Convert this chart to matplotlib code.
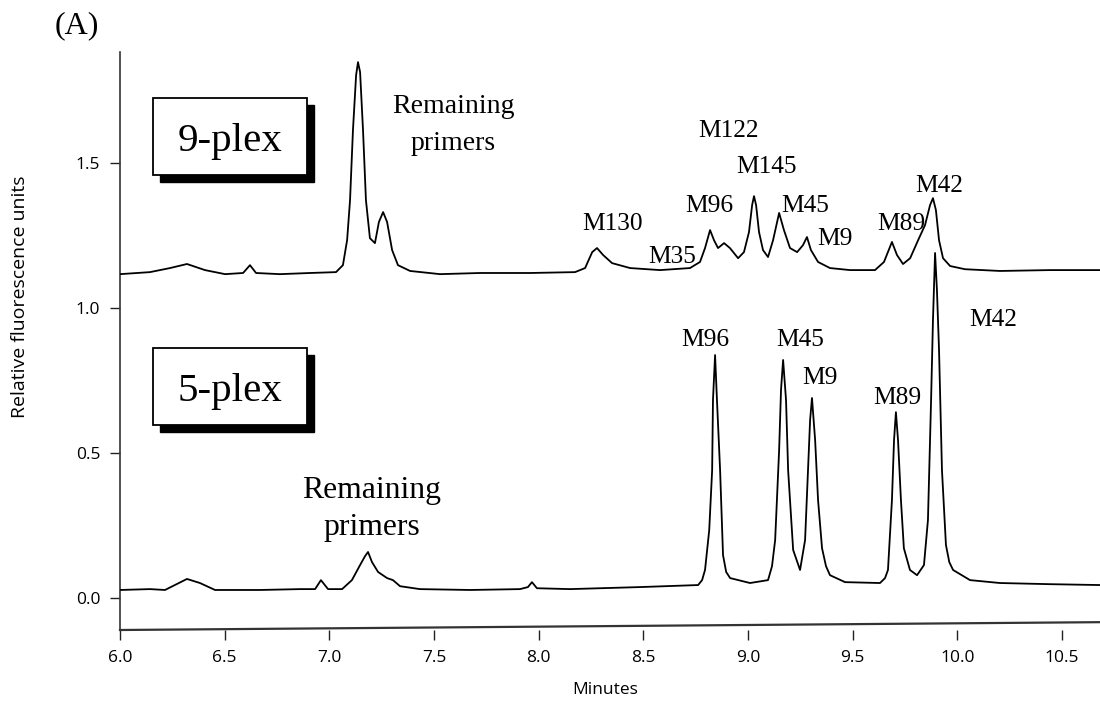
import matplotlib
matplotlib.use('Agg')
import matplotlib.pyplot as plt
from matplotlib.patches import Rectangle

# ── data (minutes, RFU) ──────────────────────────────────────────────────────
t9 = [6.000, 6.143, 6.239, 6.320, 6.406, 6.502, 6.588, 6.621, 6.650, 6.764,
      6.908, 7.032, 7.065, 7.085, 7.099, 7.113, 7.128, 7.137, 7.147, 7.161,
      7.175, 7.194, 7.218, 7.237, 7.257, 7.276, 7.300, 7.328, 7.386, 7.529,
      7.720, 7.959, 8.174, 8.222, 8.256, 8.279, 8.308, 8.351, 8.437, 8.580,
      8.723, 8.771, 8.795, 8.819, 8.838, 8.857, 8.886, 8.914, 8.953, 8.981,
      9.005, 9.020, 9.029, 9.039, 9.053, 9.072, 9.096, 9.120, 9.149, 9.172,
      9.201, 9.235, 9.263, 9.282, 9.301, 9.335, 9.392, 9.488, 9.607, 9.650,
      9.688, 9.712, 9.741, 9.775, 9.813, 9.846, 9.870, 9.884, 9.898, 9.913,
      9.932, 9.966, 10.037, 10.204, 10.443, 10.682]
v9 = [1.117, 1.124, 1.138, 1.152, 1.131, 1.117, 1.121, 1.148, 1.121, 1.117,
      1.121, 1.124, 1.148, 1.234, 1.372, 1.614, 1.803, 1.848, 1.814, 1.614,
      1.372, 1.241, 1.224, 1.297, 1.331, 1.297, 1.200, 1.148, 1.128, 1.117,
      1.121, 1.121, 1.124, 1.138, 1.193, 1.207, 1.183, 1.155, 1.138, 1.131,
      1.138, 1.159, 1.207, 1.269, 1.234, 1.207, 1.224, 1.207, 1.172, 1.193,
      1.262, 1.355, 1.386, 1.355, 1.262, 1.200, 1.176, 1.234, 1.328, 1.269,
      1.207, 1.193, 1.217, 1.245, 1.200, 1.159, 1.138, 1.131, 1.131, 1.159,
      1.228, 1.183, 1.152, 1.172, 1.234, 1.286, 1.355, 1.379, 1.338, 1.234,
      1.172, 1.145, 1.134, 1.128, 1.131, 1.131]

t5 = [6.000, 6.143, 6.215, 6.320, 6.382, 6.454, 6.669, 6.860, 6.932, 6.960,
      6.994, 7.061, 7.108, 7.147, 7.171, 7.185, 7.204, 7.233, 7.276, 7.304,
      7.338, 7.433, 7.672, 7.911, 7.949, 7.968, 7.992, 8.150, 8.484, 8.762,
      8.781, 8.795, 8.815, 8.829, 8.833, 8.843, 8.852, 8.867, 8.881, 8.896,
      8.915, 9.010, 9.096, 9.115, 9.130, 9.149, 9.158, 9.168, 9.182, 9.192,
      9.216, 9.249, 9.273, 9.287, 9.297, 9.306, 9.321, 9.335, 9.354, 9.373,
      9.392, 9.464, 9.631, 9.655, 9.669, 9.688, 9.698, 9.707, 9.717, 9.731,
      9.745, 9.774, 9.808, 9.841, 9.860, 9.875, 9.884, 9.894, 9.903, 9.913,
      9.927, 9.946, 9.962, 9.980, 10.061, 10.204, 10.443, 10.682]
v5 = [0.028, 0.031, 0.028, 0.066, 0.052, 0.028, 0.028, 0.031, 0.031, 0.062,
      0.031, 0.031, 0.062, 0.114, 0.145, 0.159, 0.124, 0.090, 0.069, 0.062,
      0.041, 0.031, 0.028, 0.031, 0.038, 0.055, 0.034, 0.031, 0.038, 0.045,
      0.062, 0.097, 0.234, 0.441, 0.683, 0.838, 0.683, 0.441, 0.148, 0.090,
      0.069, 0.052, 0.062, 0.110, 0.200, 0.510, 0.717, 0.821, 0.683, 0.441,
      0.166, 0.097, 0.200, 0.441, 0.614, 0.690, 0.545, 0.338, 0.172, 0.110,
      0.079, 0.055, 0.052, 0.069, 0.097, 0.338, 0.545, 0.641, 0.545, 0.338,
      0.172, 0.097, 0.079, 0.114, 0.269, 0.683, 0.959, 1.190, 1.062, 0.855,
      0.441, 0.183, 0.124, 0.097, 0.062, 0.052, 0.048, 0.045]

# slanted blank trace along the bottom
tb = [6.000, 10.682]
vb = [-0.110, -0.083]

# peak labels: (text, minutes, RFU of text baseline)
labels9 = [('M130', 8.355, 1.269), ('M35', 8.637, 1.155), ('M96', 8.814, 1.331),
           ('M122', 8.905, 1.590), ('M145', 9.091, 1.466), ('M45', 9.273, 1.331),
           ('M9', 9.416, 1.217), ('M89', 9.731, 1.269), ('M42', 9.913, 1.400)]
labels5 = [('M96', 8.795, 0.869), ('M45', 9.249, 0.869), ('M9', 9.344, 0.738),
           ('M89', 9.712, 0.669), ('M42', 10.171, 0.938)]

# ── figure ───────────────────────────────────────────────────────────────────
W, H = 1100, 702
SANS = ['Open Sans', 'DejaVu Sans']
SERIF = ['Liberation Serif', 'DejaVu Serif']

fig = plt.figure(figsize=(W / 100, H / 100), dpi=100)
ax = fig.add_axes([120 / W, 1 - 630 / H, 980 / W, 578 / H])

ax.plot(t9, v9, color='black', lw=1.3, zorder=3)
ax.plot(t5, v5, color='black', lw=1.3, zorder=3)
ax.plot(tb, vb, color='#333333', lw=1.6, clip_on=False, zorder=2)

ax.set_xlim(6.0, 10.682)
ax.set_ylim(-0.110, 1.883)
ax.set_xticks([6.0, 6.5, 7.0, 7.5, 8.0, 8.5, 9.0, 9.5, 10.0, 10.5])
ax.set_yticks([0.0, 0.5, 1.0, 1.5])
ax.xaxis.set_major_formatter(matplotlib.ticker.FormatStrFormatter('%.1f'))
ax.yaxis.set_major_formatter(matplotlib.ticker.FormatStrFormatter('%.1f'))
ax.tick_params(direction='out', length=7.2, width=1.0, pad=7, labelsize=12.5,
               color='#222222')
for lab in ax.get_xticklabels() + ax.get_yticklabels():
    lab.set_family(SANS)

for s in ['top', 'right', 'bottom']:
    ax.spines[s].set_visible(False)
ax.spines['left'].set_color('#333333')
ax.spines['left'].set_linewidth(1.2)

fig.text(20 / W, 1 - 418 / H, 'Relative fluorescence units', rotation=90,
         ha='center', va='bottom', fontsize=14, family=SANS)
fig.text(605 / W, 1 - 690 / H, 'Minutes', ha='center', va='center',
         fontsize=12.5, family=SANS)
fig.text(77 / W, 1 - 33 / H, '(A)', ha='center', va='baseline',
         fontsize=23, family=SERIF)

# boxed sample names with drop shadow
def shadow_box(x0, y0, x1, y1, text):
    sh = Rectangle((x0 / W + 7 / W, 1 - (y1 + 7) / H), (x1 - x0) / W, (y1 - y0) / H,
                   transform=fig.transFigure, facecolor='black', edgecolor='black')
    bx = Rectangle((x0 / W, 1 - y1 / H), (x1 - x0) / W, (y1 - y0) / H,
                   transform=fig.transFigure, facecolor='white', edgecolor='black', lw=1.3)
    fig.add_artist(sh)
    fig.add_artist(bx)
    fig.text((x0 + x1) / 2 / W, 1 - (y0 + y1) / 2 / H, text, ha='center',
             va='center_baseline', fontsize=29.5, family=SERIF)

shadow_box(153, 98, 307, 175, '9-plex')
shadow_box(153, 348, 307, 425, '5-plex')

for txt, x, y in labels9 + labels5:
    ax.text(x, y, txt, ha='center', va='baseline', fontsize=18.3, family=SERIF)

ax.text(7.592, 1.672, 'Remaining', ha='center', va='baseline', fontsize=20, family=SERIF)
ax.text(7.592, 1.545, 'primers', ha='center', va='baseline', fontsize=20, family=SERIF)
ax.text(7.204, 0.345, 'Remaining', ha='center', va='baseline', fontsize=22.8, family=SERIF)
ax.text(7.204, 0.217, 'primers', ha='center', va='baseline', fontsize=22.8, family=SERIF)

plt.savefig('out.png', dpi=100)
